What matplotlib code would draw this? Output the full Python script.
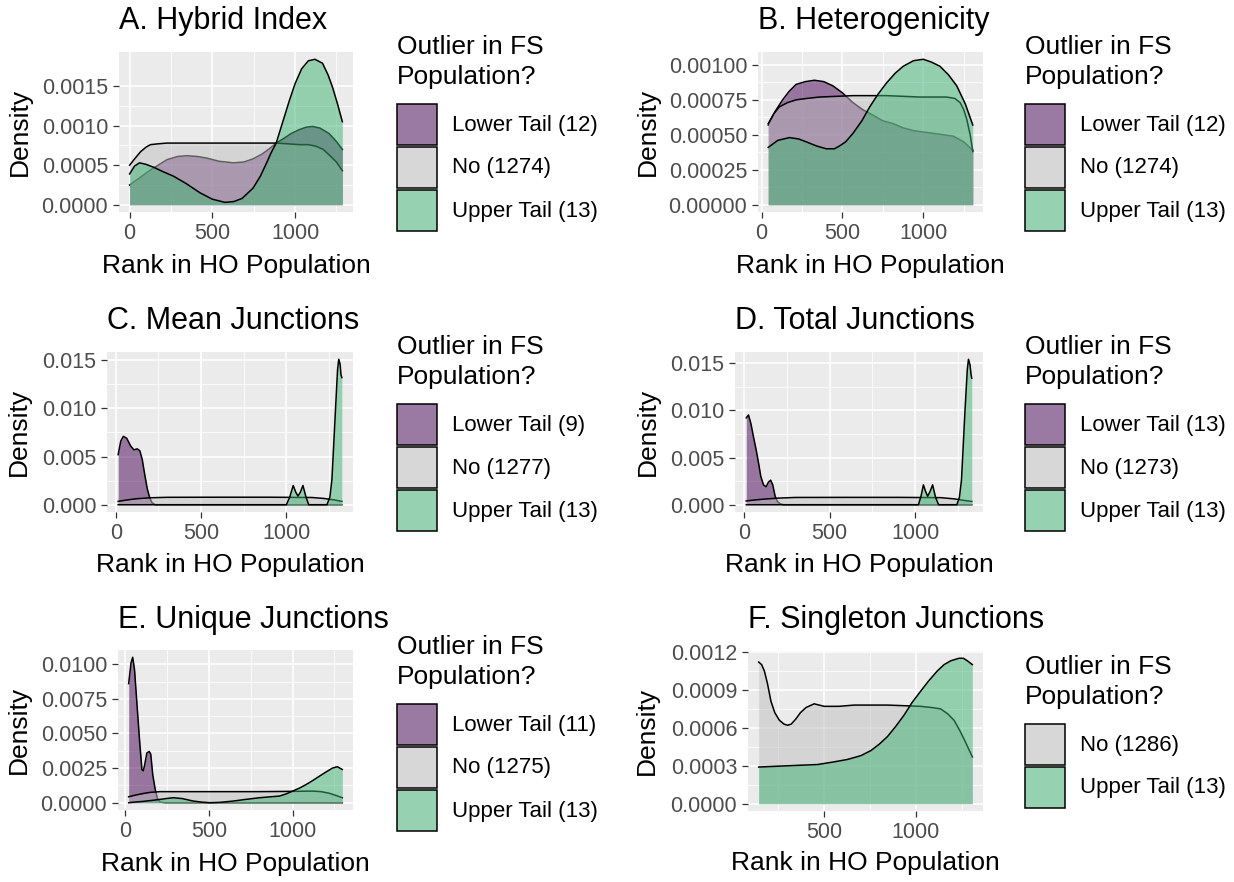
import numpy as np
import matplotlib
matplotlib.use("Agg")
import matplotlib.pyplot as plt
from matplotlib.patches import Rectangle

plt.rcParams['font.family'] = ['Liberation Sans', 'DejaVu Sans']

W, H = 1234, 882

# density curves (x = rank in HO population, y = density)
# A. Hybrid Index
A_low_x = [0, 60, 126, 180, 226, 290, 346, 410, 466, 540, 626, 690, 746, 800, 846,
           886, 926, 976, 1026, 1066, 1106, 1150, 1206, 1250, 1286]
A_low_y = [0.00025, 0.00034, 0.00044, 0.00051, 0.00057, 0.00061, 0.00062, 0.00061,
           0.00059, 0.00055, 0.00053, 0.00054, 0.00058, 0.00064, 0.00071, 0.00078,
           0.00083, 0.00090, 0.00095, 0.00098, 0.00099, 0.00097, 0.00090, 0.00080,
           0.00070]
A_no_x = [0, 30, 66, 100, 126, 170, 226, 500, 886, 960, 1026, 1080, 1126, 1170,
          1206, 1250, 1286]
A_no_y = [0.00050, 0.00058, 0.00067, 0.00073, 0.00076, 0.00077, 0.00078, 0.00078,
          0.00078, 0.00077, 0.00076, 0.00076, 0.00074, 0.00070, 0.00063, 0.00054,
          0.00043]
A_up_x = [0, 30, 60, 100, 150, 200, 266, 340, 426, 500, 576, 630, 680, 746, 790,
          826, 856, 886, 926, 966, 1000, 1040, 1080, 1120, 1166, 1200, 1226, 1256,
          1286]
A_up_y = [0.00039, 0.00049, 0.00053, 0.00051, 0.00047, 0.00042, 0.00036, 0.00027,
          0.00015, 0.00007, 0.00003, 0.00004, 0.00008, 0.00021, 0.00036, 0.00052,
          0.00066, 0.00078, 0.00105, 0.00132, 0.00153, 0.00172, 0.00182, 0.00184,
          0.00179, 0.00164, 0.00149, 0.00128, 0.00105]

# B. Heterogenicity
B_low_x = [41, 85, 130, 170, 213, 270, 327, 385, 441, 500, 565, 625, 689, 750, 813,
           875, 938, 1000, 1062, 1125, 1186, 1250, 1306]
B_low_y = [0.00057, 0.00067, 0.00075, 0.00081, 0.00086, 0.00088, 0.00089, 0.00088,
           0.00085, 0.00080, 0.00073, 0.00068, 0.00064, 0.00060, 0.00058, 0.00055,
           0.00053, 0.00052, 0.00051, 0.00050, 0.00049, 0.00045, 0.00039]
B_no_x = [41, 75, 110, 160, 213, 280, 358, 565, 772, 979, 1145, 1195, 1228, 1250,
          1269, 1290, 1306]
B_no_y = [0.00058, 0.00065, 0.00070, 0.00073, 0.00075, 0.00076, 0.00077, 0.00078,
          0.00078, 0.00077, 0.00077, 0.00076, 0.00073, 0.00068, 0.00061, 0.00050,
          0.00038]
B_up_x = [41, 100, 172, 230, 275, 340, 400, 450, 482, 520, 565, 620, 669, 720, 772,
          826, 876, 940, 1000, 1050, 1103, 1155, 1207, 1260, 1306]
B_up_y = [0.00041, 0.00046, 0.00048, 0.00047, 0.00045, 0.00042, 0.00040, 0.00040,
          0.00042, 0.00045, 0.00051, 0.00060, 0.00070, 0.00079, 0.00087, 0.00094,
          0.00099, 0.00103, 0.00104, 0.00102, 0.00099, 0.00093, 0.00085, 0.00072,
          0.00057]

# C. Mean Junctions
C_low_x = [14, 29, 44, 64, 87, 106, 126, 141, 155, 168, 184, 199, 213, 232, 1325]
C_low_y = [0.0052, 0.0066, 0.0071, 0.0069, 0.0061, 0.0057, 0.0058, 0.0056, 0.0047,
           0.0033, 0.0017, 0.0007, 0.0002, 0.0, 0.0]
C_no_x = [14, 60, 120, 200, 300, 600, 900, 1150, 1220, 1280, 1325]
C_no_y = [0.00035, 0.00048, 0.00062, 0.00072, 0.00077, 0.00078, 0.00078, 0.00075,
          0.00065, 0.00050, 0.00035]
C_up_x = [14, 1000, 1020, 1040, 1055, 1068, 1082, 1097, 1115, 1131, 1238, 1255,
          1267, 1286, 1300, 1307, 1315, 1320, 1325]
C_up_y = [0.0, 0.0, 0.0008, 0.0020, 0.0013, 0.0009, 0.0013, 0.0020, 0.0008, 0.0,
          0.0, 0.0008, 0.0026, 0.0092, 0.0140, 0.0151, 0.0146, 0.0135, 0.0132]

# D. Total Junctions
D_low_x = [12, 25, 39, 54, 70, 84, 97, 113, 128, 142, 155, 167, 181, 194, 210, 230,
           1332]
D_low_y = [0.0092, 0.0095, 0.0086, 0.0072, 0.0058, 0.0044, 0.0030, 0.0021, 0.0019,
           0.0024, 0.0026, 0.0021, 0.0009, 0.00035, 0.0001, 0.0, 0.0]
D_no_x = [12, 60, 120, 200, 300, 600, 900, 1150, 1230, 1290, 1332]
D_no_y = [0.00040, 0.00050, 0.00060, 0.00070, 0.00077, 0.00078, 0.00078, 0.00075,
          0.00062, 0.00045, 0.00035]
D_up_x = [12, 1020, 1035, 1049, 1062, 1074, 1088, 1103, 1120, 1138, 1245, 1260,
          1272, 1293, 1306, 1313, 1322, 1328, 1332]
D_up_y = [0.0, 0.0, 0.0009, 0.0021, 0.0014, 0.0009, 0.0014, 0.0021, 0.0008, 0.0,
          0.0, 0.0008, 0.0026, 0.0101, 0.0143, 0.0154, 0.0148, 0.0138, 0.0134]

# E. Unique Junctions
E_low_x = [20, 34, 44, 55, 69, 85, 99, 107, 115, 129, 143, 152, 164, 178, 192, 208,
           240, 1297]
E_low_y = [0.0086, 0.0101, 0.0105, 0.0096, 0.0072, 0.0045, 0.0024, 0.0023, 0.0027,
           0.0036, 0.0037, 0.0035, 0.0020, 0.0010, 0.0003, 0.00005, 0.0, 0.0]
E_no_x = [20, 60, 109, 150, 208, 500, 800, 1000, 1119, 1170, 1220, 1260, 1297]
E_no_y = [0.00043, 0.00055, 0.00067, 0.00075, 0.00080, 0.00080, 0.00080, 0.00082,
          0.00084, 0.00080, 0.00068, 0.00052, 0.00036]
E_up_x = [20, 60, 109, 160, 208, 250, 287, 340, 406, 460, 505, 570, 644, 720, 802,
          870, 921, 960, 1000, 1040, 1079, 1120, 1158, 1200, 1238, 1267, 1297]
E_up_y = [0.0, 0.00005, 0.00010, 0.00017, 0.00024, 0.00031, 0.00036, 0.00030,
          0.00012, 0.00004, 0.0, 0.00003, 0.00012, 0.00024, 0.00036, 0.00043,
          0.00048, 0.00063, 0.00084, 0.00105, 0.00130, 0.00160, 0.00190, 0.00222,
          0.00250, 0.00260, 0.00240]

# F. Singleton Junctions
F_no_x = [142, 158, 173, 190, 209, 230, 255, 280, 300, 320, 345, 370, 400, 445, 500,
          580, 664, 845, 1027, 1090, 1136, 1175, 1209, 1240, 1264, 1290, 1309]
F_no_y = [0.00112, 0.00110, 0.00105, 0.00095, 0.00081, 0.00072, 0.00066, 0.00063,
          0.00062, 0.00063, 0.00067, 0.00072, 0.00076, 0.00079, 0.00077, 0.00077,
          0.00078, 0.00078, 0.00077, 0.00076, 0.00075, 0.00071, 0.00066, 0.00058,
          0.00051, 0.00043, 0.00037]
F_up_x = [142, 300, 464, 550, 627, 700, 755, 800, 845, 890, 936, 980, 1027, 1070,
          1118, 1155, 1191, 1236, 1260, 1282, 1309]
F_up_y = [0.00029, 0.00030, 0.00031, 0.00033, 0.00035, 0.00038, 0.00042, 0.00047,
          0.00053, 0.00061, 0.00070, 0.00080, 0.00089, 0.00097, 0.00105, 0.00110,
          0.00113, 0.00115, 0.00115, 0.00113, 0.00110]

titles = ["A. Hybrid Index", "B. Heterogenicity", "C. Mean Junctions",
          "D. Total Junctions", "E. Unique Junctions", "F. Singleton Junctions"]
counts = [(12, 1274, 13), (12, 1274, 13), (9, 1277, 13),
          (13, 1273, 13), (11, 1275, 13), (None, 1286, 13)]
yticks = [[0, 0.0005, 0.0010, 0.0015],
          [0, 0.00025, 0.0005, 0.00075, 0.0010],
          [0, 0.005, 0.010, 0.015],
          [0, 0.005, 0.010, 0.015],
          [0, 0.0025, 0.005, 0.0075, 0.010],
          [0, 0.0003, 0.0006, 0.0009, 0.0012]]
ydec = [4, 5, 3, 3, 4, 4]

FILL = {"low": "#440154", "no": "#BEBEBE", "up": "#3CB371"}
NAMES = {"low": "Lower Tail", "no": "No", "up": "Upper Tail"}

curves = [
    [("low", A_low_x, A_low_y), ("no", A_no_x, A_no_y), ("up", A_up_x, A_up_y)],
    [("low", B_low_x, B_low_y), ("no", B_no_x, B_no_y), ("up", B_up_x, B_up_y)],
    [("low", C_low_x, C_low_y), ("no", C_no_x, C_no_y), ("up", C_up_x, C_up_y)],
    [("low", D_low_x, D_low_y), ("no", D_no_x, D_no_y), ("up", D_up_x, D_up_y)],
    [("low", E_low_x, E_low_y), ("no", E_no_x, E_no_y), ("up", E_up_x, E_up_y)],
    [("no", F_no_x, F_no_y), ("up", F_up_x, F_up_y)],
]

# panel boxes in pixels: left, right, top, bottom
boxes = [(119, 353, 52, 212), (758, 983, 52, 212),
         (107, 353, 352, 512), (735, 983, 352, 512),
         (118, 353, 650, 810), (748, 983, 651, 811)]
ylab_x = [20, 648, 19, 648, 19, 647]
xlab_y = [266, 266, 565, 565, 864, 863]
title_y = [21, 21, 321, 321, 620, 620]
leg_x = [397, 1025, 397, 1025, 397, 1025]
leg_top = [47, 47, 347, 347, 647, 667]

fig = plt.figure(figsize=(W / 100, H / 100), dpi=100)

for i in range(6):
    l, r, t, b = boxes[i]
    ax = fig.add_axes([l / W, 1 - b / H, (r - l) / W, (b - t) / H])
    ax.set_facecolor("#EBEBEB")
    for s in ax.spines.values():
        s.set_visible(False)

    xs = np.concatenate([c[1] for c in curves[i]])
    ymax = max(max(c[2]) for c in curves[i])
    x0, x1 = xs.min(), xs.max()
    pad = 0.05 * (x1 - x0)
    ax.set_xlim(x0 - pad, x1 + pad)
    ax.set_ylim(-0.05 * ymax, 1.05 * ymax)

    for key, x, y in curves[i]:
        ax.fill_between(x, 0, y, color=FILL[key], alpha=0.5, lw=0, zorder=2)
        ax.plot(x, y, color="black", lw=1.1, zorder=2, solid_joinstyle="round")

    xt = [v for v in [0, 500, 1000] if x0 - pad <= v <= x1 + pad]
    ax.set_xticks(xt)
    ax.set_xticklabels([str(v) for v in xt])
    ax.set_xticks([250, 750, 1250], minor=True)
    yt = yticks[i]
    ax.set_yticks(yt)
    ax.set_yticklabels([f"{v:.{ydec[i]}f}" for v in yt])
    ax.set_yticks([(a + c) / 2 for a, c in zip(yt[:-1], yt[1:])], minor=True)

    ax.grid(which="major", color="white", lw=1.1, zorder=0)
    ax.grid(which="minor", color="white", lw=0.55, zorder=0)
    ax.set_axisbelow(True)
    ax.tick_params(which="major", length=4.3, width=0.9, color="#333333",
                   labelcolor="#4D4D4D", labelsize=15.5, pad=3.5)
    ax.tick_params(which="minor", length=0)

    ax.set_xlabel("Rank in HO Population", fontsize=19)
    ax.set_ylabel("Density", fontsize=19)
    ax.xaxis.set_label_coords(0.5, (b - xlab_y[i]) / (b - t))
    ax.xaxis.label.set_va("center")
    ax.yaxis.set_label_coords((ylab_x[i] - l) / (r - l), 0.5)
    ax.yaxis.label.set_va("center")

    fig.text(l / W, 1 - title_y[i] / H, titles[i], fontsize=22,
             ha="left", va="center")

    # legend
    lx = leg_x[i]
    ty = leg_top[i]
    fig.text(lx / W, 1 - ty / H, "Outlier in FS", fontsize=19, va="center")
    fig.text(lx / W, 1 - (ty + 30) / H, "Population?", fontsize=19, va="center")
    keys = [k for k, _, _ in curves[i]]
    ns = [n for n in counts[i] if n is not None]
    for j, (k, n) in enumerate(zip(keys, ns)):
        kt = ty + 57 + 43 * j
        for fc, a in [("#F2F2F2", 1.0), (FILL[k], 0.5)]:
            fig.add_artist(Rectangle((lx / W, 1 - (kt + 41) / H), 40 / W, 41 / H,
                                     transform=fig.transFigure, facecolor=fc,
                                     alpha=a, edgecolor="none"))
        fig.add_artist(Rectangle((lx / W, 1 - (kt + 41) / H), 40 / W, 41 / H,
                                 transform=fig.transFigure, facecolor="none",
                                 edgecolor="black", lw=1.1))
        fig.text((lx + 55) / W, 1 - (kt + 21) / H, f"{NAMES[k]} ({n})",
                 fontsize=16, va="center")

fig.savefig("out.png", dpi=100, facecolor="white")
